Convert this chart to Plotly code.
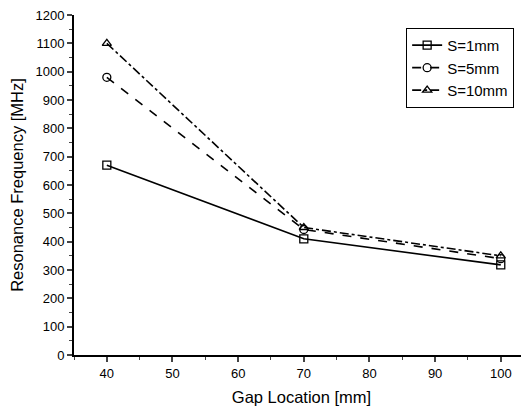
import plotly.graph_objects as go

gap_location = [40, 70, 100]
s1mm = [670, 410, 318]
s5mm = [980, 443, 340]
s10mm = [1100, 450, 350]
names = ["S=1mm", "S=5mm", "S=10mm"]

fig = go.Figure()
styles = [("solid", "square-open"), ("dash", "circle-open"), ("dashdot", "triangle-up-open")]
for name, ys, (dash, sym) in zip(names, [s1mm, s5mm, s10mm], styles):
    fig.add_trace(go.Scatter(
        x=gap_location, y=ys, name=name, mode="lines+markers",
        line=dict(color="black", width=1.6, dash=dash),
        marker=dict(symbol=sym, size=8, color="black", line=dict(width=1.3, color="black")),
    ))

font = "Liberation Sans, Arial, sans-serif"
# page body has an 8px default margin, so the figure is sized to fit the window
fig.update_layout(
    width=521, height=402,
    margin=dict(l=66, r=0, t=7, b=55),
    paper_bgcolor="white", plot_bgcolor="white",
    font=dict(family=font, color="black", size=13),
    showlegend=True,
    legend=dict(x=0.73, y=0.962, xanchor="left", yanchor="top",
                bordercolor="black", borderwidth=1, bgcolor="white",
                font=dict(size=15, family=font), tracegroupgap=0,
                itemwidth=30),
    xaxis=dict(range=[35, 104.3], tickmode="array", tickvals=[40, 50, 60, 70, 80, 90, 100],
               ticks="outside", ticklen=5, tickwidth=1.5, linecolor="black", linewidth=2,
               showgrid=False, zeroline=False, automargin=False,
               minor=dict(tickvals=[35, 45, 55, 65, 75, 85, 95], ticks="outside", ticklen=3, tickwidth=1.2),
               title=dict(text="Gap Location [mm]", font=dict(size=16.5), standoff=12),
               tickfont=dict(size=13)),
    yaxis=dict(range=[0, 1200], dtick=100, tick0=0,
               ticks="outside", ticklen=5, tickwidth=1.5, linecolor="black", linewidth=2,
               showgrid=False, zeroline=False, automargin=False,
               ticklabeloverflow="allow",
               minor=dict(dtick=50, ticks="outside", ticklen=3, tickwidth=1.2),
               title=dict(text="Resonance Frequency [MHz]", font=dict(size=16.5), standoff=10),
               tickfont=dict(size=13)),
)

fig.write_html("out.html")
